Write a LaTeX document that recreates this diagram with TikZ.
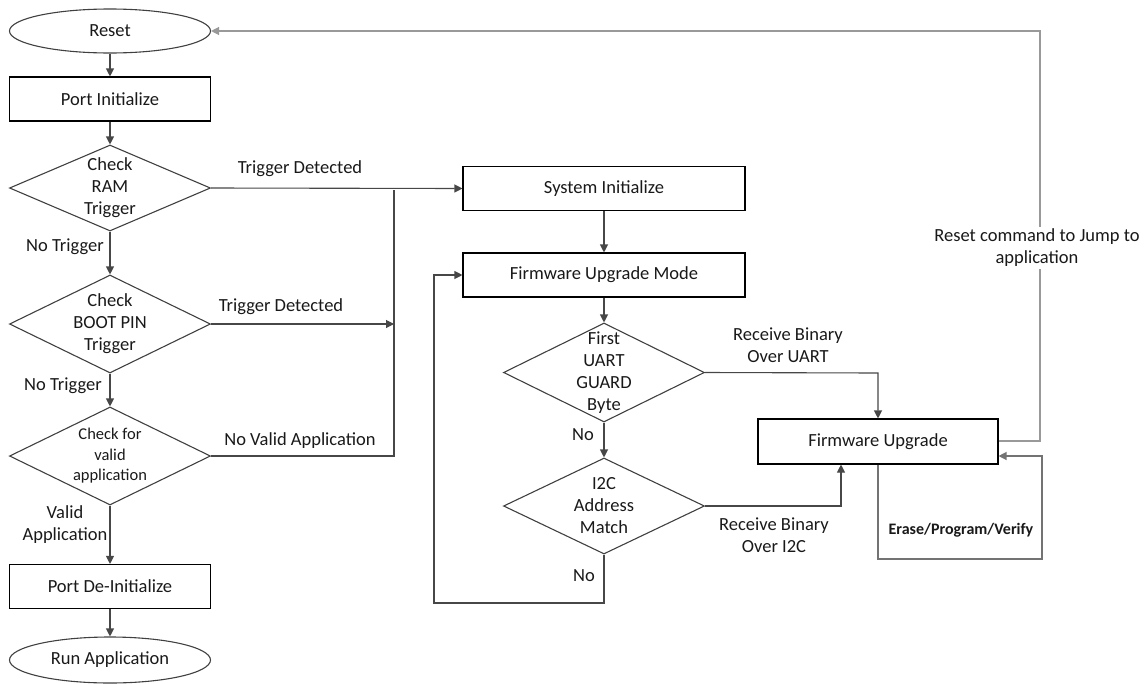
\documentclass[tikz,border=0pt]{standalone}
\usepackage{fontspec}
\setmainfont{Carlito}
\usetikzlibrary{shapes.geometric,arrows.meta}
\begin{document}
\begin{tikzpicture}[x=1pt,y=-1pt,
  txt/.style={font=\fontsize{18.5}{22}\selectfont, text=black!90, align=center},
  stxt/.style={font=\fontsize{16.5}{20.5}\selectfont, text=black!90, align=center},
  lbl/.style={txt, inner sep=0pt},
  box/.style={draw=black, line width=1.1pt, minimum width=201pt, minimum height=44pt, inner sep=0pt, txt},
  wbox/.style={box, minimum width=282pt},
  oval/.style={draw=black!75, line width=1.1pt, shape=ellipse, minimum width=201pt, minimum height=44pt, inner sep=0pt, txt},
  dia/.style={draw=black!75, line width=1.1pt, shape=diamond, minimum width=201pt, inner sep=0pt},
  ln/.style={draw=black!72, line width=1.1pt},
  arr/.style={ln, -{Triangle[length=8pt,width=8pt]}},
  lgt/.style={draw=black!40, line width=1.3pt},
]
\useasboundingbox (0,0) rectangle (1146,683);

% left column
\node[oval] (reset) at (110,31) {Reset};
\node[box] (pinit) at (110,99) {Port Initialize};
\node[dia, minimum height=86pt, label={[txt]center:{Check\\RAM\\Trigger}}] (ram) at (110,188) {};
\node[dia, minimum height=98pt, label={[txt]center:{Check\\BOOT PIN\\Trigger}}] (boot) at (110,324) {};
\node[dia, minimum height=98pt, label={[stxt]center:{Check for\\valid\\application}}] (valid) at (110,456) {};
\node[box] (pdeinit) at (110,586.5) {Port De-Initialize};
\node[oval, minimum height=46pt] (run) at (110,660) {Run Application};

\draw[arr] (reset) -- (pinit);
\draw[arr] (pinit) -- (ram);
\draw[arr] (ram) -- (boot);
\draw[arr] (boot) -- (valid);
\draw[arr] (valid) -- (pdeinit);
\draw[arr] (pdeinit) -- (run);

\node[lbl] (nt1) at (65,247) {No Trigger};
\node[lbl] (nt2) at (63,386) {No Trigger};
\node[lbl] (va) at (65,525) {Valid\\Application};

% middle column
\node[wbox] (sysinit) at (604,188.5) {System Initialize};
\node[wbox] (fum) at (604,275) {Firmware Upgrade Mode};
\node[dia, minimum height=99pt, label={[txt]center:{First\\UART\\GUARD\\Byte}}] (uart) at (604,372.5) {};
\node[dia, minimum height=96pt, label={[txt]center:{I2C\\Address\\Match}}] (i2c) at (604,506) {};
\node[box, minimum width=240pt, minimum height=45pt] (fwu) at (878,441.5) {Firmware Upgrade};

\coordinate (col) at (394,188);
\coordinate (colbot) at (394,456);
\coordinate (coltop) at (394,190);
\draw[arr] (ram.east) -- (sysinit.west);
\draw[arr] (boot.east) -- (boot.east -| col);
\draw[ln] (valid.east) -- (colbot) -- (coltop);

\node[lbl] (td1) at (300,169) {Trigger Detected};
\node[lbl] (td2) at (281,307) {Trigger Detected};
\node[lbl] (nva) at (300,441) {No Valid Application};

\draw[arr] (sysinit) -- (fum);
\draw[arr] (fum) -- (uart);
\draw[arr] (uart) -- (i2c);
\coordinate (lpb) at (604,603);
\coordinate (lpl) at (434,603);
\draw[arr] (i2c.south) -- (lpb) -- (lpl) |- (fum.west);
\node[lbl] (no1) at (583,435) {No};
\node[lbl] (no2) at (584,576) {No};

% right side
\coordinate (ucorner) at (878,373);
\draw[arr] (uart.east) -- (ucorner) -- (fwu.north);
\coordinate (icorner) at (841,506);
\draw[arr] (i2c.east) -- (icorner) -- (icorner |- fwu.south);
\node[lbl] (rbu) at (788,345) {Receive Binary\\Over UART};
\node[lbl] (rbi) at (774,535) {Receive Binary\\Over I2C};

\coordinate (e1) at (878,559);
\coordinate (e2) at (1042,559);
\coordinate (e3) at (1042,456);
\draw[lgt, draw=black!55, -{Triangle[length=8pt,width=8pt]}] (fwu.south -| e1) -- (e1) -- (e2) -- (e3) -- (e3 -| fwu.east);
\node[font=\bfseries\fontsize{16}{19}\selectfont, text=black!90, inner sep=0pt] (epv) at (961,530) {Erase/Program/Verify};

\coordinate (r1) at (1040,441);
\coordinate (r2) at (1040,31);
\draw[lgt, -{Triangle[length=8pt,width=8pt]}, draw=black!40] (fwu.east |- r1) -- (r1) -- (r2) -- (reset.east);
\node[lbl, fill=white, inner sep=2pt] (rcj) at (1037,248) {Reset command to Jump to\\application};
\end{tikzpicture}
\end{document}
